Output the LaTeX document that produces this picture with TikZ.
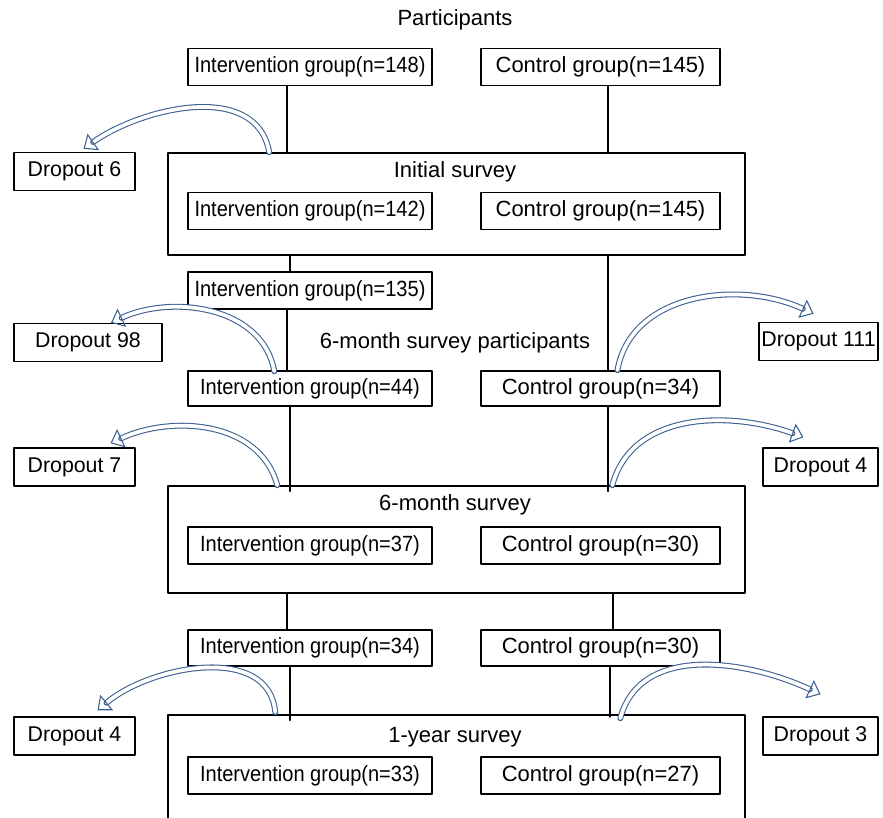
\documentclass[tikz,border=0pt]{standalone}
\usepackage{fontspec}
\setmainfont{Liberation Sans}
\newfontfamily\igfont[FakeStretch=0.91]{Liberation Sans}
\usetikzlibrary{calc,arrows.meta}

\definecolor{dropblue}{RGB}{60,96,146}

\tikzset{
  grp/.style={draw, line width=1.1pt, minimum height=27.75pt, inner sep=0pt,
    font=\fontsize{16.5}{19}\selectfont},
  igbox/.style={grp, minimum width=183pt, font=\igfont\fontsize{16.5}{19}\selectfont},
  cgbox/.style={grp, minimum width=179pt},
  dropbox/.style={grp, minimum height=28.5pt, font=\fontsize{16}{19}\selectfont},
  survey/.style={draw, line width=1.1pt, minimum width=432.75pt, inner sep=0pt},
  title/.style={font=\fontsize{16.5}{19}\selectfont},
  drop/.style={draw=dropblue, double=white, double distance=2.8pt, line width=0.8pt,
    -{Triangle[open, length=9pt, width=15pt]}},
}

\begin{document}
\begin{tikzpicture}[x=0.75pt, y=-0.75pt, line cap=round, line join=round]

  \clip (0,0) rectangle (883,818);

  % ===== 参加者 =====
  \node[title] (part) at (455,20) {Participants};
  \node[igbox] (ig148) at (310,67) {Intervention group(n=148)};
  \node[cgbox] (cg145) at (600.5,67) {Control group(n=145)};

  % ===== 初回調査 =====
  \node[survey, minimum height=76.5pt] (init) at (456.5,204) {};
  \node[title] (initT) at (455,172) {Initial survey};
  \node[igbox] (ig142) at (310,211) {Intervention group(n=142)};
  \node[cgbox] (cg145b) at (600.5,211) {Control group(n=145)};
  \node[igbox] (ig135) at (310,290.5) {Intervention group(n=135)};

  % ===== 6か月調査参加者 =====
  \node[title] (sixP) at (455,343) {6-month survey participants};
  \node[igbox, minimum height=26.25pt] (ig44) at (310,388.5) {Intervention group(n=44)};
  \node[cgbox, minimum height=26.25pt] (cg34) at (600.5,388.5) {Control group(n=34)};

  % ===== 6か月調査 =====
  \node[survey, minimum height=80.25pt] (six) at (456.5,539.5) {};
  \node[title] (sixT) at (455,505) {6-month survey};
  \node[igbox] (ig37) at (310,545.5) {Intervention group(n=37)};
  \node[cgbox] (cg30) at (600.5,545.5) {Control group(n=30)};
  \node[igbox, minimum height=27pt] (ig34) at (310,648) {Intervention group(n=34)};
  \node[cgbox, minimum height=27pt] (cg30b) at (600.5,648) {Control group(n=30)};

  % ===== 1年調査 =====
  \node[survey, minimum height=105pt] (year) at (456.5,785) {};
  \node[title] (yearT) at (455,737) {1-year survey};
  \node[igbox] (ig33) at (310,775.5) {Intervention group(n=33)};
  \node[cgbox] (cg27) at (600.5,775.5) {Control group(n=27)};

  % ===== 脱落 =====
  \node[dropbox, minimum width=90.75pt] (d6) at (74.5,171.5) {Dropout 6};
  \node[dropbox, minimum width=111pt] (d98) at (88,342.5) {Dropout 98};
  \node[dropbox, minimum width=89.25pt] (d111) at (818.5,341.5) {Dropout 111};
  \node[dropbox, minimum width=90.75pt] (d7) at (74.5,467) {Dropout 7};
  \node[dropbox, minimum width=86.25pt] (d4r) at (820.5,467) {Dropout 4};
  \node[dropbox, minimum width=90.75pt] (d4l) at (74.5,736) {Dropout 4};
  \node[dropbox, minimum width=86.25pt] (d3) at (820.5,736) {Dropout 3};

  % ===== 縦線 =====
  \coordinate (xa) at (287,0);
  \coordinate (xb) at (290,0);
  \coordinate (xc) at (608,0);
  \coordinate (xd) at (613,0);
  \coordinate (xe) at (610,0);

  \begin{scope}[line width=1.1pt]
    \draw (xa |- ig148.south) -- (xa |- init.north);
    \draw (xc |- cg145.south) -- (xc |- init.north);
    \draw (xb |- init.south) -- (xb |- ig135.north);
    \draw (xc |- init.south) -- (xc |- cg34.north);
    \draw (xa |- ig135.south) -- (xa |- ig44.north);
    \draw[shorten >=-4.5pt] (xb |- ig44.south) -- (xb |- six.north);
    \draw[shorten >=-4.5pt] (xc |- cg34.south) -- (xc |- six.north);
    \draw (xa |- six.south) -- (xa |- ig34.north);
    \draw (xd |- six.south) -- (xd |- cg30b.north);
    \draw[shorten >=-4.5pt] (xb |- ig34.south) -- (xb |- year.north);
    \draw[shorten >=-2pt] (xe |- cg30b.south) -- (xe |- year.north);
  \end{scope}

  % ===== 脱落への矢印 =====
  \draw[drop] ($(init.north west)+(102,0)$) to[out=100, in=35] ($(d6.north)+(9,-3)$);
  \draw[drop] ($(ig44.north west)+(87,1)$) to[out=100, in=25] ($(d98.north)+(23,0)$);
  \draw[drop] ($(cg34.north west)+(137,0)$) to[out=80, in=155] ($(d111.north)+(-5,-8)$);
  \draw[drop] ($(six.north west)+(110,0)$) to[out=105, in=25] ($(d7.north)+(36,-4)$);
  \draw[drop] ($(six.north west)+(445,0)$) to[out=75, in=160] ($(d4r.north)+(-17,-10)$);
  \draw[drop] ($(year.north west)+(108,-2)$) to[out=95, in=40] ($(d4l.north)+(23,-6)$);
  \draw[drop] ($(year.north west)+(453,4)$) to[out=75, in=155] ($(d3.north)+(0,-22)$);

\end{tikzpicture}
\end{document}
